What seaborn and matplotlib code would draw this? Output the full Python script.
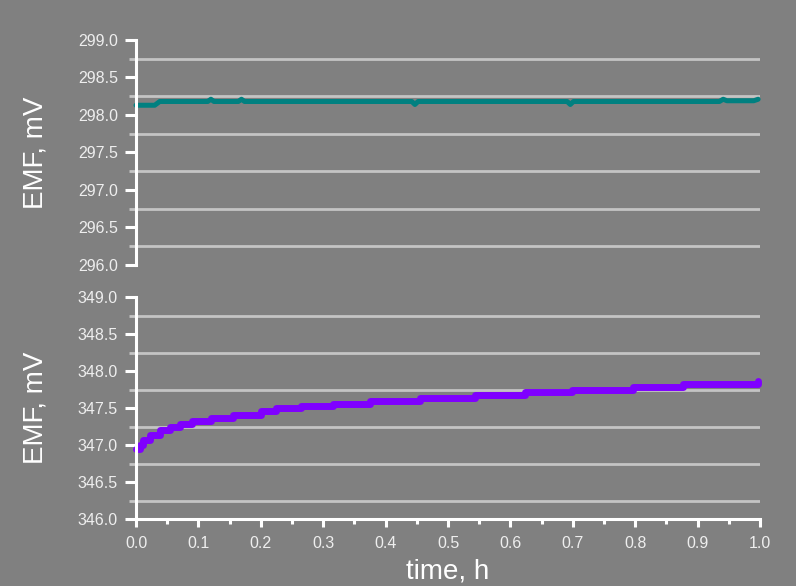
import numpy as np
import pandas as pd
import matplotlib
matplotlib.use("Agg")
import matplotlib.pyplot as plt
from matplotlib.ticker import MultipleLocator, FormatStrFormatter
import seaborn as sns

# ---- data ----
time_top = [0, 0.03, 0.038, 0.115, 0.12, 0.125, 0.164, 0.169, 0.174, 0.442, 0.447,
            0.452, 0.691, 0.696, 0.701, 0.935, 0.941, 0.947, 0.99, 0.997]
emf_top = [298.13, 298.13, 298.18, 298.18, 298.21, 298.18, 298.18, 298.21, 298.18, 298.18,
           298.14, 298.18, 298.18, 298.14, 298.18, 298.18, 298.21, 298.19, 298.19, 298.21]

time_bot = [0, 0.006, 0.012, 0.022, 0.038, 0.054, 0.07, 0.09, 0.12, 0.155, 0.2, 0.225,
            0.265, 0.316, 0.375, 0.455, 0.543, 0.623, 0.698, 0.797, 0.877, 0.997]
emf_bot = [346.95, 347.0, 347.07, 347.14, 347.20, 347.25, 347.28, 347.32, 347.37, 347.41,
           347.46, 347.50, 347.53, 347.56, 347.60, 347.64, 347.68, 347.71, 347.75, 347.79,
           347.83, 347.87]

top_ylim = (296.0, 299.0)
bot_ylim = (346.0, 349.0)
xlabel = "time, h"
ylabel = "EMF, mV"

BG = "#808080"
WHITE = "#ffffff"
GRID = "#c4c4c4"
TXT = "#eeeeee"

sns.set_theme(style="white", rc={"axes.facecolor": BG, "figure.facecolor": BG})
plt.rcParams["font.family"] = ["Liberation Sans", "DejaVu Sans"]

fig = plt.figure(figsize=(7.96, 5.86), dpi=100)
W, H = 796, 586
L, R = 136, 760
ax_top = fig.add_axes([L / W, 1 - 265 / H, (R - L) / W, 225 / H])
ax_bot = fig.add_axes([L / W, 1 - 519 / H, (R - L) / W, 222 / H])

df_top = pd.DataFrame({"t": time_top, "emf": emf_top})
df_bot = pd.DataFrame({"t": time_bot, "emf": emf_bot})

sns.lineplot(data=df_top, x="t", y="emf", ax=ax_top, color="#008080", linewidth=3.6,
             estimator=None, sort=False, solid_capstyle="round", solid_joinstyle="round")
sns.lineplot(data=df_bot, x="t", y="emf", ax=ax_bot, color="#7f00ff", linewidth=5,
             estimator=None, sort=False, drawstyle="steps-post",
             solid_capstyle="round", solid_joinstyle="round")

for ax, ylim in ((ax_top, top_ylim), (ax_bot, bot_ylim)):
    ax.set_facecolor(BG)
    ax.set_xlim(0, 1.0)
    ax.set_ylim(*ylim)
    ax.yaxis.set_major_locator(MultipleLocator(0.5))
    ax.yaxis.set_minor_locator(MultipleLocator(0.25))
    ax.yaxis.set_major_formatter(FormatStrFormatter("%.1f"))
    ax.grid(False)
    ax.grid(which="minor", axis="y", color=GRID, linewidth=2.0, zorder=0)
    for s in ("top", "right"):
        ax.spines[s].set_visible(False)
    ax.spines["left"].set_color(WHITE)
    ax.spines["left"].set_linewidth(2.2)
    ax.tick_params(axis="y", which="major", direction="out", length=8, width=2.2,
                   color=WHITE, labelcolor=TXT, labelsize=11.5, pad=5, left=True)
    ax.tick_params(axis="y", which="minor", direction="out", length=5, width=2.0,
                   color=GRID, left=True)
    ax.set_ylabel(ylabel, fontsize=20, color=WHITE)
    ax.yaxis.set_label_coords(-0.14, 0.5)
    ax.set_axisbelow(True)

ax_top.spines["bottom"].set_visible(False)
ax_top.set_xlabel("")
ax_top.tick_params(axis="x", which="both", bottom=False, labelbottom=False)

ax_bot.spines["bottom"].set_color(WHITE)
ax_bot.spines["bottom"].set_linewidth(2.2)
ax_bot.xaxis.set_major_locator(MultipleLocator(0.1))
ax_bot.xaxis.set_minor_locator(MultipleLocator(0.05))
ax_bot.xaxis.set_major_formatter(FormatStrFormatter("%.1f"))
ax_bot.tick_params(axis="x", which="major", direction="out", length=6, width=2.2,
                   color=WHITE, labelcolor=TXT, labelsize=11.5, pad=6, bottom=True)
ax_bot.tick_params(axis="x", which="minor", direction="out", length=3.5, width=2.2,
                   color=WHITE, bottom=True)
ax_bot.set_xlabel(xlabel, fontsize=20, color=WHITE)
ax_bot.xaxis.set_label_coords(0.5, -0.178)

for ax in (ax_top, ax_bot):
    for line in ax.get_lines():
        line.set_clip_on(False)

fig.savefig("out.png", dpi=100, facecolor=BG)
